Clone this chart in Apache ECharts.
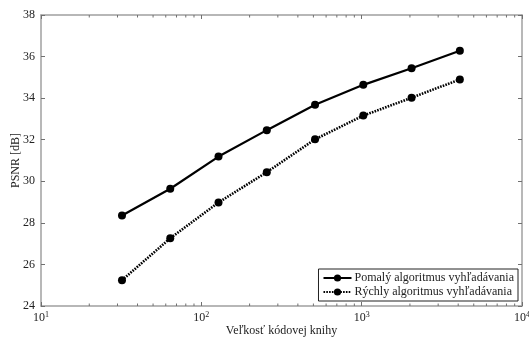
<!DOCTYPE html>
<html>
<head>
<meta charset="utf-8">
<script src="https://cdn.jsdelivr.net/npm/echarts@6/dist/echarts.min.js"></script>
<style>
  html, body { margin: 0; padding: 0; background: #fff; }
  #chart { width: 529px; height: 338px; }
</style>
</head>
<body>
<div id="chart"></div>
<script>
// codebook sizes (x) and PSNR in dB
const codebookSizes = [32, 64, 128, 256, 512, 1024, 2048, 4096];
const psnrSlow = [28.35, 29.64, 31.19, 32.46, 33.68, 34.64, 35.44, 36.28];
const psnrFast = [25.24, 27.26, 28.98, 30.44, 32.02, 33.16, 34.02, 34.9];
const slowName = 'Pomalý algoritmus vyhľadávania';
const fastName = 'Rýchly algoritmus vyhľadávania';
// minor tick positions on the log axis
const minorTicks = [20, 30, 40, 50, 60, 70, 80, 90, 200, 300, 400, 500, 600, 700, 800, 900,
  2000, 3000, 4000, 5000, 6000, 7000, 8000, 9000];

const FONT = 'Liberation Serif';
const frameColor = '#a0a0a0';
const tickColor = '#707070';

const chart = echarts.init(document.getElementById('chart'));

const toPairs = (ys) => codebookSizes.map((x, i) => [x, ys[i]]);

const xBase = {
  type: 'log',
  logBase: 10,
  min: 10,
  max: 10000,
  axisLine: { show: true, lineStyle: { color: frameColor, width: 1.5 } },
  axisTick: { show: true, inside: true, length: 4, lineStyle: { color: tickColor } },
  splitLine: { show: false },
};
const yBase = {
  type: 'value',
  min: 24,
  max: 38,
  interval: 2,
  axisLine: { show: true, lineStyle: { color: frameColor, width: 1.5 } },
  axisTick: { show: true, inside: true, length: 4, lineStyle: { color: tickColor } },
  splitLine: { show: false },
};

chart.setOption({
  animation: false,
  textStyle: { fontFamily: FONT },
  grid: { left: 41, right: 7, top: 15, bottom: 32, outerBoundsMode: 'none', containLabel: false },
  xAxis: [
    {
      ...xBase,
      position: 'bottom',
      name: 'Veľkosť kódovej knihy',
      nameLocation: 'middle',
      nameGap: 19,
      nameMoveOverlap: false,
      nameTextStyle: { fontFamily: FONT, fontSize: 12, color: '#222' },
      axisLabel: {
        margin: 5,
        color: '#222',
        formatter: (v) => '{b|10}{e|' + Math.round(Math.log10(v)) + '}',
        rich: {
          b: { fontFamily: FONT, fontSize: 12, color: '#222' },
          e: { fontFamily: FONT, fontSize: 8, color: '#222', verticalAlign: 'top', padding: [0, 0, 5, 0] },
        },
      },
    },
    { ...xBase, position: 'top', axisLabel: { show: false } },
  ],
  yAxis: [
    {
      ...yBase,
      position: 'left',
      name: 'PSNR [dB]',
      nameLocation: 'middle',
      nameGap: 19,
      nameMoveOverlap: false,
      nameTextStyle: { fontFamily: FONT, fontSize: 12, color: '#222' },
      axisLabel: { margin: 6, fontFamily: FONT, fontSize: 12, color: '#222' },
    },
    { ...yBase, position: 'right', axisLabel: { show: false } },
  ],
  legend: {
    data: [slowName, fastName],
    orient: 'vertical',
    right: 11,
    bottom: 37,
    itemWidth: 28,
    itemHeight: 9,
    itemGap: 2,
    padding: [3, 4, 3, 4],
    borderColor: '#222',
    borderWidth: 1,
    backgroundColor: '#fff',
    textStyle: { fontFamily: FONT, fontSize: 12, color: '#222', padding: [0, 0, 0, -2] },
  },
  series: [
    {
      type: 'custom',
      silent: true,
      data: minorTicks,
      renderItem: (params, api) => {
        const v = api.value(0);
        const b = api.coord([v, 24]);
        const t = api.coord([v, 38]);
        const style = { stroke: tickColor, lineWidth: 1 };
        return {
          type: 'group',
          children: [
            { type: 'line', shape: { x1: b[0], y1: b[1], x2: b[0], y2: b[1] - 2.5 }, style },
            { type: 'line', shape: { x1: t[0], y1: t[1], x2: t[0], y2: t[1] + 2.5 }, style },
          ],
        };
      },
      encode: { x: 0 },
      z: 1,
    },
    {
      name: slowName,
      type: 'line',
      data: toPairs(psnrSlow),
      symbol: 'circle',
      symbolSize: 8,
      lineStyle: { color: '#000', width: 2.2 },
      itemStyle: { color: '#000' },
      z: 3,
    },
    {
      name: fastName,
      type: 'line',
      data: toPairs(psnrFast),
      symbol: 'circle',
      symbolSize: 8,
      lineStyle: { color: '#000', width: 2.6, type: [1.6, 1.2] },
      itemStyle: { color: '#000' },
      z: 3,
    },
  ],
});
</script>
</body>
</html>
